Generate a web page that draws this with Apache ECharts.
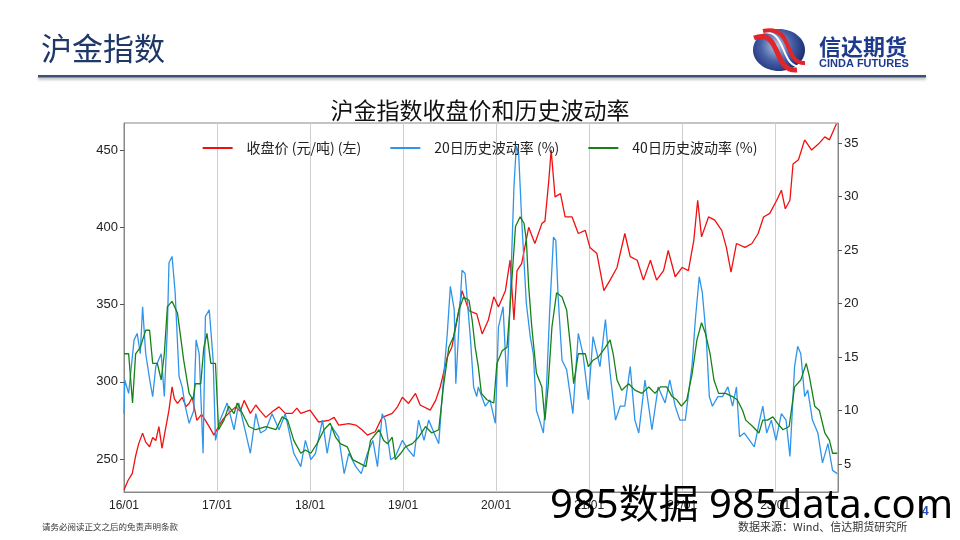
<!DOCTYPE html>
<html>
<head>
<meta charset="utf-8">
<script src="https://cdn.jsdelivr.net/npm/echarts@6/dist/echarts.min.js"></script>
<style>
html, body { margin: 0; padding: 0; background: #fff; }
#chart { width: 960px; height: 540px; }
</style>
</head>
<body>
<div id="chart"></div>
<script>
// x = months since 2016-01
const yearLabels = ['16/01', '17/01', '18/01', '19/01', '20/01', '21/01', '22/01', '23/01'];

// 收盘价 (元/吨)
const closePrice = [
  [0, 230], [0.5, 236], [1.07, 240.7], [1.5, 252], [1.9, 260], [2.4, 266.8], [2.8, 261], [3.3, 258], [3.7, 264],
  [4.1, 262], [4.5, 271], [4.9, 257], [5.3, 268], [5.8, 281.7], [6.2, 296.8], [6.5, 289], [6.9, 286],
  [7.5, 290], [8, 284], [8.4, 286], [8.8, 290], [9.4, 275], [10, 279], [10.5, 275], [11.1, 270],
  [11.6, 265.5], [12.2, 271], [12.8, 276], [13.5, 279.6], [14.4, 283.8], [15, 281], [15.5, 288], [16.3, 279.6], [17, 285],
  [17.6, 281], [18.3, 277], [19.2, 281], [20, 283.8], [20.8, 279.6], [21.7, 279.6], [22.3, 283], [22.8, 279.6], [24, 281.7], [25.1, 274],
  [26.4, 275], [27.1, 277], [27.7, 272], [29, 273], [29.9, 272], [30.7, 269], [31.4, 265.5], [32.4, 267.7], [33.3, 277],
  [34.6, 279.6], [35.3, 284], [35.9, 290], [36.7, 286], [37.6, 292.5], [38.2, 285], [39.5, 281.7], [40.2, 288],
  [40.8, 296.8], [41.7, 316], [42.3, 322.6], [43.2, 346], [43.6, 359], [44.5, 346], [45.5, 344],
  [46.2, 331], [47, 340], [47.7, 355], [48.3, 348.5], [49.2, 359], [49.8, 378.7], [50.3, 340],
  [50.7, 372], [51.3, 376.6], [52.2, 400], [53, 389.5], [53.9, 402.4], [54.3, 404], [54.8, 430.5],
  [55.1, 450], [55.6, 419.7], [56.3, 421.8], [56.9, 406.7], [57.8, 406.7], [58.6, 396], [59.5, 398],
  [60.1, 387], [61, 383], [61.9, 359], [62.7, 365.8], [63.6, 374], [64.6, 396], [65.3, 381],
  [66.2, 378.7], [67, 365.8], [67.9, 378.7], [68.7, 365.8], [69.6, 372], [70.2, 385], [71.1, 368],
  [72, 374], [72.8, 372], [73.5, 391.6], [74, 417.5], [74.5, 393.8], [75.4, 406.7], [76.2, 404.6],
  [77.1, 398], [77.7, 387], [78.3, 371], [79, 389.5], [80.1, 387], [81, 389.5], [81.8, 396],
  [82.5, 406.7], [83.3, 409], [84.2, 417.5], [84.8, 424], [85.3, 412], [85.9, 417.5], [86.3, 441],
  [87, 443.7], [87.8, 456.6], [88.7, 450], [89.6, 454], [90.4, 458.5], [91, 456.6], [91.9, 467]
];

// 20日历史波动率 (%)
const vol20 = [
  [0, 9.7], [0.1, 12.85], [0.6, 11.6], [1.3, 16.6], [1.7, 17.2], [2.1, 15.3], [2.4, 19.7], [2.8, 15.3],
  [3.4, 12.5], [3.7, 11.3], [4.1, 14.1], [4.8, 15.3], [5.2, 11.3], [5.6, 17.8], [5.8, 23.8], [6.2, 24.4],
  [6.6, 21], [7.1, 13.2], [7.5, 12.2], [7.9, 10.4], [8.4, 8.8], [9, 10], [9.3, 16.6], [9.7, 15.3],
  [10.2, 6], [10.5, 18.8], [11, 19.4], [11.5, 14.7], [11.8, 7.2], [12.4, 9.1], [13.3, 10.7], [14.2, 8.2],
  [14.8, 10.7], [15.7, 7.9], [16.3, 6], [17, 9.7], [17.6, 7.9], [18.3, 8.2], [19.1, 9.7], [20, 8.2],
  [20.8, 9.7], [21.9, 6], [22.8, 4.75], [23.4, 7.2], [24.1, 5.4], [24.7, 6], [25.6, 9.1], [26.2, 6],
  [26.8, 8.5], [27.7, 7.5], [28.4, 4.1], [29, 6], [29.9, 4.75], [30.6, 4.1], [31.4, 6], [32.1, 7.2],
  [32.7, 4.75], [33.3, 9.7], [33.7, 9.1], [34.4, 5.4], [35, 5.7], [35.9, 7.2], [36.7, 6.3], [37.4, 5.7],
  [38, 9.1], [38.7, 7.2], [39.3, 9.1], [40, 7.9], [40.6, 6.9], [41.2, 12.85], [41.7, 17.2], [42.1, 21.6],
  [42.6, 19.4], [42.8, 12.5], [43.2, 17.8], [43.6, 23.1], [44, 22.8], [44.7, 16.6], [45.1, 12.2],
  [45.5, 11.3], [45.7, 12.2], [46.6, 10.4], [47.2, 11], [47.9, 8.8], [48.3, 17.8], [48.9, 19.7],
  [49.4, 12.2], [49.8, 20], [50.3, 30.9], [50.6, 34.7], [50.9, 34.1], [51.3, 27.8], [51.9, 20],
  [52.4, 16.9], [52.8, 15.3], [53.2, 10], [53.6, 9.1], [54.1, 7.9], [54.5, 12.2], [54.9, 19.1],
  [55.4, 26.2], [55.7, 25.9], [56, 20.6], [56.5, 14.7], [57.1, 13.8], [57.9, 9.7], [58.6, 17.2],
  [59.2, 15.3], [59.9, 11], [60.5, 16.9], [61.4, 14.1], [62.1, 18.5], [62.7, 13.5], [63.4, 9.1],
  [64, 10.4], [64.6, 10.4], [65.3, 14.1], [65.9, 9.1], [66.4, 7.9], [67.2, 12.85], [68.1, 8.2],
  [68.9, 12.2], [69.8, 10.7], [70.4, 12.85], [71.1, 10.4], [71.7, 9.1], [72.4, 9.1], [73.3, 14.4],
  [73.7, 18.5], [74.2, 22.5], [74.6, 21], [75.1, 16.9], [75.5, 11.3], [75.9, 10.4], [76.6, 11.3],
  [77.2, 11.3], [77.9, 12.2], [78.5, 10.4], [79, 12.2], [79.4, 7.55], [80, 7.9], [80.7, 7.2],
  [81.3, 6.6], [82, 9.1], [82.4, 10.4], [82.9, 7.9], [83.5, 9.1], [84.1, 7.2], [84.8, 9.7], [85.4, 9.1],
  [85.9, 5.7], [86.5, 14.1], [86.9, 16], [87.3, 15.3], [87.8, 11.3], [88.2, 11.9], [88.8, 9.1],
  [89.5, 7.9], [90.1, 5.1], [90.8, 6.9], [91.4, 4.4], [92, 4.1]
];

// 40日历史波动率 (%)
const vol40 = [
  [0, 15.3], [0.6, 15.3], [1.1, 10.7], [1.5, 15.3], [2.1, 15.9], [2.8, 17.5], [3.3, 17.5], [3.7, 14.4],
  [4.3, 14.4], [4.8, 12.85], [5.2, 15.3], [5.6, 19.7], [6.2, 20.2], [6.9, 19.1], [7.3, 16.9], [7.7, 14.7],
  [8.4, 11.6], [8.9, 11], [9.2, 12.5], [9.9, 12.5], [10.3, 15.9], [10.7, 17.2], [11.2, 14.4], [11.8, 14.4],
  [12.2, 8.2], [12.9, 9.1], [13.5, 10.4], [14.2, 9.7], [14.6, 10.7], [15.3, 9.7], [16.1, 8.5], [17, 8.2],
  [18.3, 8.5], [19.6, 8.2], [20.4, 9.4], [21.1, 9.1], [21.9, 7.2], [22.8, 6], [23.4, 6.3], [24.1, 6],
  [24.9, 6.9], [25.8, 8.2], [26.6, 8.8], [27.3, 7.5], [27.9, 6.9], [28.8, 6.6], [29.5, 5.4], [30.3, 5.1],
  [31.2, 4.75], [31.8, 7.2], [32.9, 8.2], [33.5, 7.2], [34, 6.9], [34.6, 7.5], [35, 5.4], [35.7, 6],
  [36.3, 6.6], [37.2, 6.9], [38, 7.5], [38.9, 8.5], [39.7, 7.9], [40.6, 8.2], [41.2, 12.2], [41.9, 15.9],
  [42.5, 16.9], [43.2, 19.4], [43.8, 20.6], [44.5, 20.3], [44.9, 18.5], [45.3, 15.9], [45.7, 14.1],
  [46.1, 11.6], [46.8, 11], [47.7, 10.7], [48.1, 14.4], [48.8, 15.6], [49.4, 15.9], [49.8, 19.7],
  [50.5, 27.2], [51.1, 28.1], [51.6, 27.5], [51.9, 25.9], [52.2, 21.6], [52.6, 17.8], [53.2, 13.5],
  [53.9, 12.2], [54.3, 9.1], [54.7, 12.2], [55.2, 17.8], [55.8, 21], [56.5, 20.6], [57.1, 19.4],
  [57.6, 15.9], [58, 12.5], [58.6, 15.3], [59.5, 15.3], [59.9, 14.1], [60.5, 14.7], [61.2, 15],
  [62.1, 15.9], [62.7, 16.6], [63.1, 15.3], [63.6, 12.85], [64.2, 11.9], [65.1, 12.5], [65.9, 11.9],
  [66.8, 11.6], [67.7, 12.2], [68.5, 11.6], [69.2, 12.2], [70, 12.2], [70.7, 11.3], [71.3, 11],
  [71.9, 10.4], [72.6, 11], [73.3, 13.5], [73.9, 16.6], [74.5, 18.2], [75, 17.2], [75.6, 15.3],
  [76.1, 12.85], [76.7, 11.6], [77.6, 11.6], [78.5, 11.3], [79.1, 11], [79.8, 10], [80.2, 9.1],
  [81.1, 8.5], [81.9, 7.9], [82.4, 9.1], [83, 9.1], [83.7, 9.4], [84.3, 8.8], [85, 8.2], [85.8, 8.5],
  [86.5, 12.2], [87.3, 12.85], [88, 14.4], [88.4, 13.2], [89.1, 10.4], [89.7, 10], [90.4, 7.9],
  [91, 7.2], [91.4, 6], [92, 6]
];

const cjk = '"Noto Sans CJK SC", "Noto Sans", sans-serif';
const latin = '"Liberation Sans", Arial, sans-serif';

const chart = echarts.init(document.getElementById('chart'));

const lineItem = {
  type: 'line',
  symbol: 'none',
  smooth: false
};

chart.setOption({
  animation: false,
  title: {
    text: '沪金指数收盘价和历史波动率',
    left: 'center',
    top: 94,
    textStyle: { fontFamily: cjk, fontSize: 23, fontWeight: 'normal', color: '#111' }
  },
  legend: {
    top: 136,
    left: 'center',
    itemWidth: 30,
    itemHeight: 2,
    itemGap: 29,
    icon: 'rect',
    textStyle: { fontFamily: cjk, fontSize: 14, color: '#222', padding: [0, 0, 0, 9] },
    data: ['收盘价 (元/吨) (左)', '20日历史波动率 (%)', '40日历史波动率 (%)']
  },
  grid: {
    left: 124,
    right: 122,
    top: 123,
    bottom: 48,
    show: true,
    borderColor: '#888',
    borderWidth: 1
  },
  xAxis: {
    type: 'value',
    min: 0,
    max: 92.1,
    interval: 12,
    axisLine: { show: true, lineStyle: { color: '#888' } },
    axisTick: { show: false },
    splitLine: { show: true, lineStyle: { color: '#cfcfcf', width: 1 } },
    axisLabel: {
      showMaxLabel: false,
      margin: 8,
      fontFamily: latin,
      fontSize: 12,
      color: '#222',
      formatter: v => yearLabels[Math.round(v / 12)] || ''
    }
  },
  yAxis: [
    {
      type: 'value',
      min: 228.7,
      max: 467.5,
      splitNumber: 5,
      splitLine: { show: false },
      axisLine: { show: true, lineStyle: { color: '#888' } },
      axisTick: { show: true, length: 4, lineStyle: { color: '#555' } },
      axisLabel: {
        showMinLabel: false,
        showMaxLabel: false,
        fontFamily: latin,
        fontSize: 13,
        color: '#222',
        margin: 6
      }
    },
    {
      type: 'value',
      min: 2.38,
      max: 36.87,
      splitNumber: 7,
      position: 'right',
      splitLine: { show: false },
      axisLine: { show: true, lineStyle: { color: '#888' } },
      axisTick: { show: true, length: 4, lineStyle: { color: '#555' } },
      axisLabel: {
        showMinLabel: false,
        showMaxLabel: false,
        fontFamily: latin,
        fontSize: 13,
        color: '#222',
        margin: 6
      }
    }
  ],
  series: [
    {
      ...lineItem,
      name: '收盘价 (元/吨) (左)',
      yAxisIndex: 0,
      data: closePrice,
      itemStyle: { color: '#f01010' },
      lineStyle: { width: 1.3, color: '#f01010' }
    },
    {
      ...lineItem,
      name: '20日历史波动率 (%)',
      yAxisIndex: 1,
      data: vol20,
      itemStyle: { color: '#2f95ea' },
      lineStyle: { width: 1.3, color: '#2f95ea' }
    },
    {
      ...lineItem,
      name: '40日历史波动率 (%)',
      yAxisIndex: 1,
      data: vol40,
      itemStyle: { color: '#168216' },
      lineStyle: { width: 1.3, color: '#168216' }
    }
  ],
  graphic: [
    // header
    {
      type: 'text', left: 41, top: 33,
      style: { text: '沪金指数', font: '31px ' + cjk, fill: '#1f3868' }
    },
    {
      type: 'rect', shape: { x: 38, y: 75, width: 888, height: 2.5 },
      style: { fill: '#3a5079', shadowBlur: 3, shadowOffsetY: 2, shadowColor: 'rgba(0,0,0,0.3)' }
    },
    // logo
    {
      type: 'ellipse', shape: { cx: 779, cy: 50, rx: 26, ry: 21 },
      style: {
        fill: new echarts.graphic.RadialGradient(0.45, 0.4, 0.75, [
          { offset: 0, color: '#b9c6e4' },
          { offset: 0.5, color: '#4760a6' },
          { offset: 1, color: '#15256a' }
        ])
      }
    },
    {
      type: 'bezierCurve',
      shape: { x1: 754, y1: 38, x2: 797, y2: 70, cpx1: 782, cpy1: 28, cpx2: 772, cpy2: 72 },
      style: { stroke: '#e0262b', lineWidth: 5, fill: null }
    },
    {
      type: 'bezierCurve',
      shape: { x1: 759, y1: 33, x2: 802, y2: 67, cpx1: 789, cpy1: 26, cpx2: 778, cpy2: 68 },
      style: { stroke: '#fff', lineWidth: 2, fill: null }
    },
    {
      type: 'bezierCurve',
      shape: { x1: 763, y1: 31, x2: 805, y2: 63, cpx1: 794, cpy1: 24, cpx2: 783, cpy2: 64 },
      style: { stroke: '#e0262b', lineWidth: 4, fill: null }
    },
    {
      type: 'text', left: 819, top: 36,
      style: { text: '信达期货', font: 'bold 22px ' + cjk, fill: '#1e3a8c', letterSpacing: 2 }
    },
    {
      type: 'text', left: 819, top: 58,
      style: { text: 'CINDA FUTURES', font: 'bold 11px ' + latin, fill: '#1e3a8c' }
    },
    // footer
    {
      type: 'text', left: 42, top: 523,
      style: { text: '请务必阅读正文之后的免责声明条款', font: '8.5px ' + cjk, fill: '#333' }
    },
    {
      type: 'text', left: 738, top: 521,
      style: { text: '数据来源：Wind、信达期货研究所', font: '11px ' + cjk, fill: '#333' }
    },
    {
      type: 'text', left: 922, top: 506,
      style: { text: '4', font: 'bold 12px ' + latin, fill: '#1f4fb4' }
    },
    // watermark
    {
      type: 'text', left: 550, top: 487, z: 100,
      style: { text: '985数据 985data.com', font: '40px "Noto Sans", ' + cjk, fill: '#000' }
    }
  ]
});
</script>
</body>
</html>
